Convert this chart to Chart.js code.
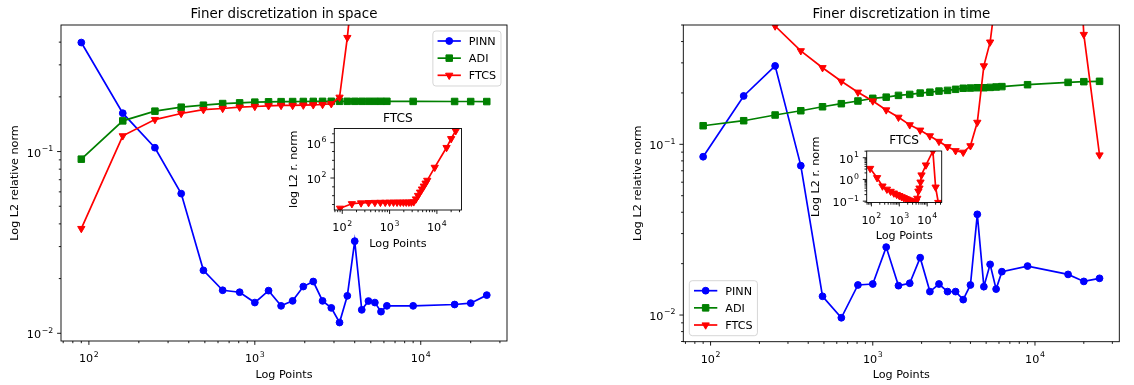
<!DOCTYPE html>
<html>
<head>
<meta charset="utf-8">
<title>Finer discretization</title>
<script src="https://cdn.jsdelivr.net/npm/chart.js@4.4.1/dist/chart.umd.min.js"></script>
<style>
  html, body { margin: 0; padding: 0; background: #ffffff; }
  #figure { position: relative; width: 1134px; height: 385px; overflow: hidden; background: #ffffff; }
  #figure canvas { position: absolute; }
</style>
</head>
<body>
<div id="figure">
  <canvas id="spaceMain" width="567" height="385" style="left:0px;top:0px"></canvas>
  <canvas id="timeMain" width="567" height="385" style="left:567px;top:0px"></canvas>
  <canvas id="spaceInset" width="200" height="160" style="left:270px;top:100px"></canvas>
  <canvas id="timeInset" width="155" height="130" style="left:795px;top:120px"></canvas>
</div>
<script>
// number of points (x axis, shared by every series)
const points = [90, 160, 250, 360, 490, 640, 810, 1000, 1210, 1440, 1690, 1960, 2250, 2560,
    2890, 3240, 3610, 4000, 4410, 4840, 5290, 5760, 6250, 9000, 16000, 20000, 25000];

// finer discretization in space
const spacePinn = [0.398, 0.1626, 0.105, 0.0587, 0.0222, 0.01725, 0.01683, 0.01476, 0.01717,
    0.01416, 0.01508, 0.01808, 0.01927, 0.01508, 0.0138, 0.01146, 0.01607, 0.03214, 0.01346,
    0.01505, 0.01476, 0.01315, 0.01416, 0.01416, 0.0144, 0.01465, 0.01622];
const spaceAdi = [0.0908, 0.1475, 0.1668, 0.1754, 0.1799, 0.1837, 0.1853, 0.187, 0.1878,
    0.1882, 0.1884, 0.1886, 0.1888, 0.1889, 0.189, 0.189, 0.189, 0.189, 0.189, 0.189, 0.189,
    0.189, 0.189, 0.1888, 0.1886, 0.1885, 0.1884];
const spaceFtcs = [0.0377, 0.122, 0.15, 0.162, 0.17, 0.1726, 0.1754, 0.177, 0.1786, 0.1793,
    0.1793, 0.18, 0.1807, 0.1815, 0.1832, 0.199, 0.424, 1.05, 2.5, 5.6, 12, 26, 54, 1600,
    2.8e5, 2.8e6, 2.2e7];

// finer discretization in time
const timePinn = [0.0846, 0.192, 0.288, 0.075, 0.01288, 0.00964, 0.015, 0.0152, 0.025,
    0.01486, 0.01535, 0.02168, 0.01372, 0.0152, 0.01372, 0.01372, 0.01231, 0.015, 0.0389,
    0.01466, 0.01981, 0.01419, 0.01795, 0.01936, 0.0173, 0.01574, 0.01641];
const timeAdi = [0.1285, 0.1375, 0.1485, 0.1573, 0.166, 0.173, 0.1794, 0.186, 0.189, 0.1935,
    0.196, 0.1996, 0.202, 0.205, 0.207, 0.21, 0.213, 0.2136, 0.2145, 0.2145, 0.2155, 0.2167,
    0.2178, 0.2235, 0.2306, 0.2328, 0.2339];
const timeFtcs = [3.2, 1.2, 0.493, 0.353, 0.281, 0.234, 0.202, 0.1794, 0.159, 0.144, 0.13,
    0.121, 0.112, 0.104, 0.0968, 0.0917, 0.0898, 0.098, 0.1345, 0.288, 0.397, 0.75, 1.6, 4.6,
    20, 0.44, 0.0866];

// labelled (major) ticks
const xMajorTicks = [100, 1000, 10000];
const mainYMajorTicks = [0.01, 0.1];
const spaceInsetYMajorTicks = [100, 1e6];
const timeInsetYMajorTicks = [0.1, 1, 10];

const FONT = '"DejaVu Sans", "Liberation Sans", sans-serif';
const BLUE = '#0000ff', GREEN = '#008000', RED = '#ff0000';

function drawMarker(ctx, style, x, y, color) {
    ctx.save();
    ctx.fillStyle = color;
    ctx.strokeStyle = color;
    ctx.lineWidth = 1;
    ctx.beginPath();
    if (style === 'circle') {
        ctx.arc(x, y, 3.4, 0, Math.PI * 2);
    } else if (style === 'rect') {
        const s = 4.6 * Math.SQRT1_2;
        ctx.rect(x - s, y - s, 2 * s, 2 * s);
    } else {
        const r = 4.2;
        ctx.moveTo(x, y + r);
        ctx.lineTo(x - 0.866 * r, y - 0.5 * r);
        ctx.lineTo(x + 0.866 * r, y - 0.5 * r);
        ctx.closePath();
    }
    ctx.fill();
    ctx.stroke();
    ctx.restore();
}

// "10" with a raised exponent, like matplotlib's mathtext labels
function drawPow10(ctx, value, x, y, align) {
    const exp = Math.round(Math.log10(value));
    const sup = exp < 0 ? '\u2212' + (-exp) : String(exp);
    ctx.font = '11.2px ' + FONT;
    const wb = ctx.measureText('10').width;
    ctx.font = '7.8px ' + FONT;
    const ws = ctx.measureText(sup).width;
    const total = wb + 0.6 + ws;
    let left = x;
    if (align === 'center') left = x - total / 2;
    if (align === 'right') left = x - total;
    ctx.textAlign = 'left';
    ctx.textBaseline = 'alphabetic';
    ctx.font = '11.2px ' + FONT;
    ctx.fillText('10', left, y);
    ctx.font = '7.8px ' + FONT;
    ctx.fillText(sup, left + wb + 0.6, y - 5.6);
}

function tickList(min, max, majors, mode) {
    const out = [];
    const isMajor = v => majors.some(m => Math.abs(m - v) / m < 1e-6);
    for (let k = Math.floor(Math.log10(min)) - 1; k <= Math.ceil(Math.log10(max)); k++) {
        const subs = mode === 'decades' ? [1] : [1, 2, 3, 4, 5, 6, 7, 8, 9];
        subs.forEach(m => {
            const v = m * Math.pow(10, k);
            if (v >= min && v <= max) out.push({ v: v, major: isMajor(v) });
        });
    }
    return out;
}

function drawLegend(ctx, a, lg) {
    ctx.save();
    ctx.font = '11.2px ' + FONT;
    const textW = Math.max(...lg.items.map(it => ctx.measureText(it.label).width));
    const w = 4.7 + 23.3 + 8 + textW + 4.8;
    const h = 55;
    const x0 = lg.corner === 'ne' ? a.right - 6 - w : a.left + 6;
    const y0 = lg.corner === 'ne' ? a.top + 6 : a.bottom - 6 - h;
    const r = 3;
    ctx.beginPath();
    ctx.moveTo(x0 + r, y0);
    ctx.arcTo(x0 + w, y0, x0 + w, y0 + h, r);
    ctx.arcTo(x0 + w, y0 + h, x0, y0 + h, r);
    ctx.arcTo(x0, y0 + h, x0, y0, r);
    ctx.arcTo(x0, y0, x0 + w, y0, r);
    ctx.closePath();
    ctx.fillStyle = 'rgba(255,255,255,0.8)';
    ctx.fill();
    ctx.strokeStyle = 'rgba(204,204,204,0.8)';
    ctx.lineWidth = 1;
    ctx.stroke();

    lg.items.forEach((it, i) => {
        const cy = y0 + 10 + i * 17.15;
        ctx.strokeStyle = it.color;
        ctx.lineWidth = 1.7;
        ctx.beginPath();
        ctx.moveTo(x0 + 4.7, cy);
        ctx.lineTo(x0 + 28, cy);
        ctx.stroke();
        drawMarker(ctx, it.style, x0 + 16.35, cy, it.color);
        ctx.fillStyle = '#000';
        ctx.font = '11.2px ' + FONT;
        ctx.textAlign = 'left';
        ctx.textBaseline = 'alphabetic';
        ctx.fillText(it.label, x0 + 36, cy + 4.1);
    });
    ctx.restore();
}

// axes box, ticks, texts and legend drawn the way matplotlib lays them out
function mplPlugin(o) {
    return {
        id: 'mplAxes',
        beforeDraw(chart) {
            const ctx = chart.ctx, a = chart.chartArea;
            ctx.save();
            ctx.fillStyle = '#ffffff';
            if (o.fillAll) ctx.fillRect(0, 0, chart.width, chart.height);
            else ctx.fillRect(a.left, a.top, a.right - a.left, a.bottom - a.top);
            ctx.restore();
        },
        afterDraw(chart) {
            const ctx = chart.ctx, a = chart.chartArea;
            const xs = chart.scales.x, ys = chart.scales.y;
            ctx.save();
            ctx.strokeStyle = '#000';
            ctx.fillStyle = '#000';
            ctx.lineWidth = 0.9;
            ctx.strokeRect(a.left, a.top, a.right - a.left, a.bottom - a.top);

            tickList(o.xMin, o.xMax, xMajorTicks, 'subs').forEach(t => {
                const px = xs.getPixelForValue(t.v);
                ctx.beginPath();
                ctx.moveTo(px, a.bottom);
                ctx.lineTo(px, a.bottom + (t.major ? 3.9 : 2.2));
                ctx.stroke();
                if (t.major) drawPow10(ctx, t.v, px, a.bottom + 21.3, 'center');
            });
            tickList(o.yMin, o.yMax, o.yMajor, o.yMinorMode).forEach(t => {
                const py = ys.getPixelForValue(t.v);
                ctx.beginPath();
                ctx.moveTo(a.left, py);
                ctx.lineTo(a.left - (t.major ? 3.9 : 2.2), py);
                ctx.stroke();
                if (t.major) drawPow10(ctx, t.v, a.left - 7.8, py + 5, 'right');
            });

            const cx = (a.left + a.right) / 2;
            ctx.textAlign = 'center';
            ctx.textBaseline = 'alphabetic';
            ctx.font = o.titleSize + 'px ' + FONT;
            ctx.fillText(o.title, cx, a.top - 6.7);
            ctx.font = '11.2px ' + FONT;
            ctx.fillText(o.xLabel, cx, a.bottom + 36.5);

            ctx.save();
            ctx.translate(a.left + o.yLabelOffset, (a.top + a.bottom) / 2);
            ctx.rotate(-Math.PI / 2);
            ctx.fillText(o.yLabel, 0, 0);
            ctx.restore();

            if (o.legend) drawLegend(ctx, a, o.legend);
            ctx.restore();
        }
    };
}

function series(label, values, color, style, order) {
    return {
        label: label,
        data: points.map((p, i) => ({ x: p, y: values[i] })),
        borderColor: color,
        backgroundColor: color,
        borderWidth: 1.7,
        pointStyle: style,
        pointRadius: style === 'circle' ? 3.4 : (style === 'rect' ? 4.6 : 4.2),
        pointRotation: style === 'triangle' ? 180 : 0,
        pointBorderWidth: 1,
        pointBackgroundColor: color,
        pointBorderColor: color,
        tension: 0,
        fill: false,
        order: order
    };
}

function makeChart(id, datasets, o) {
    return new Chart(document.getElementById(id), {
        type: 'line',
        data: { datasets: datasets },
        options: {
            responsive: false,
            animation: false,
            events: [],
            devicePixelRatio: 1,
            layout: { padding: o.padding },
            plugins: {
                legend: { display: false },
                tooltip: { enabled: false },
                title: { display: false }
            },
            scales: {
                x: { type: 'logarithmic', min: o.xMin, max: o.xMax, bounds: 'data', display: false },
                y: { type: 'logarithmic', min: o.yMin, max: o.yMax, bounds: 'data', display: false }
            }
        },
        plugins: [mplPlugin(o)]
    });
}

const legendItems = [
    { label: 'PINN', color: BLUE, style: 'circle' },
    { label: 'ADI', color: GREEN, style: 'rect' },
    { label: 'FTCS', color: RED, style: 'triangle' }
];

makeChart('spaceMain', [
    series('PINN', spacePinn, BLUE, 'circle', 3),
    series('ADI', spaceAdi, GREEN, 'rect', 2),
    series('FTCS', spaceFtcs, RED, 'triangle', 1)
], {
    padding: { left: 61, right: 60, top: 25, bottom: 44 },
    xMin: 67.9, xMax: 33100, yMin: 0.00907, yMax: 0.497,
    yMajor: mainYMajorTicks, yMinorMode: 'subs', fillAll: true,
    title: 'Finer discretization in space', titleSize: 13.4,
    xLabel: 'Log Points', yLabel: 'Log L2 relative norm', yLabelOffset: -43,
    legend: { corner: 'ne', items: legendItems }
});

makeChart('timeMain', [
    series('PINN', timePinn, BLUE, 'circle', 3),
    series('ADI', timeAdi, GREEN, 'rect', 2),
    series('FTCS', timeFtcs, RED, 'triangle', 1)
], {
    padding: { left: 116.3, right: 14.7, top: 25, bottom: 43.3 },
    xMin: 67.9, xMax: 33100, yMin: 0.00698, yMax: 0.5,
    yMajor: mainYMajorTicks, yMinorMode: 'subs', fillAll: true,
    title: 'Finer discretization in time', titleSize: 13.4,
    xLabel: 'Log Points', yLabel: 'Log L2 relative norm', yLabelOffset: -42.3,
    legend: { corner: 'sw', items: legendItems }
});

makeChart('spaceInset', [series('FTCS', spaceFtcs, RED, 'triangle', 1)], {
    padding: { left: 64.3, right: 8.5, top: 28.5, bottom: 50 },
    xMin: 67.9, xMax: 33100, yMin: 0.024, yMax: 4e7,
    yMajor: spaceInsetYMajorTicks, yMinorMode: 'decades', fillAll: false,
    title: 'FTCS', titleSize: 12.2,
    xLabel: 'Log Points', yLabel: 'log L2 r. norm', yLabelOffset: -37.3
});

makeChart('timeInset', [series('FTCS', timeFtcs, RED, 'triangle', 1)], {
    padding: { left: 71.7, right: 8.3, top: 31, bottom: 47.5 },
    xMin: 67.9, xMax: 33100, yMin: 0.0866, yMax: 20.4,
    yMajor: timeInsetYMajorTicks, yMinorMode: 'subs', fillAll: false,
    title: 'FTCS', titleSize: 12.2,
    xLabel: 'Log Points', yLabel: 'Log L2 r. norm', yLabelOffset: -48.2
});
</script>
</body>
</html>
